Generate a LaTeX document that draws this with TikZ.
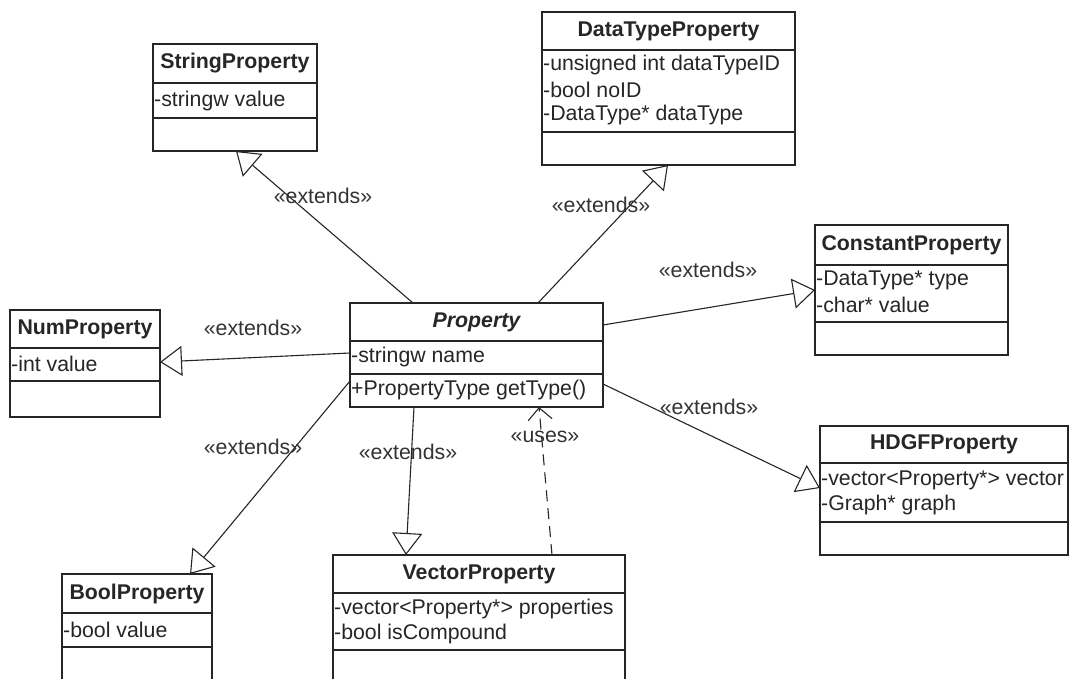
\documentclass[tikz,border=0pt]{standalone}
\usepackage{fontspec}
\setmainfont{Liberation Sans}
\usetikzlibrary{arrows.meta,calc}
\tikzset{
  clsbox/.style={draw=black!85, line width=1.5pt, fill=white, anchor=north west, inner sep=0pt, outer sep=0pt},
  clsline/.style={draw=black!85, line width=1.5pt},
  ctitle/.style={font=\fontsize{21.3}{25}\selectfont\bfseries, inner sep=0pt, text=black!85},
  attr/.style={font=\fontsize{21.3}{25}\selectfont, anchor=west, inner sep=0pt, xshift=1pt, text=black!85},
  lbl/.style={font=\fontsize{21.3}{25}\selectfont, inner sep=0pt, text=black!80},
  ext/.style={draw=black!85, line width=1.1pt, -{Triangle[open, length=22pt, width=30pt, fill=white]}},
  uses/.style={draw=black!85, line width=1.1pt, dash pattern=on 11pt off 7pt, -{Straight Barb[length=12pt, width=24pt]}}
}
\newcommand\umlclass[8]{%
  \node[clsbox, minimum width={(#4-#2)*1pt}, minimum height={(#5-#3)*1pt}] (#1) at (#2,#3) {};
  \draw[clsline] (#1.west |- 0,#6) -- (#1.east |- 0,#6);
  \draw[clsline] (#1.west |- 0,#7) -- (#1.east |- 0,#7);
  \node[ctitle] (#1-t) at ({(#2+#4)/2},{(#3+#6)/2}) {#8};
}
\begin{document}
\begin{tikzpicture}[x=1pt, y=-1pt]
\useasboundingbox (0,0) rectangle (1070,679);
\clip (0,0) rectangle (1070,679);
\fill[white] (0,0) rectangle (1070,679);

% classes
\umlclass{str}{153}{44}{317}{151}{83}{118}{StringProperty}
\node[attr] (str-a1) at (153,101) {-stringw value};

\umlclass{dt}{542}{12}{795}{165}{50}{132}{DataTypeProperty}
\node[attr] (dt-a1) at (542,65) {-unsigned int dataTypeID};
\node[attr] (dt-a2) at (542,90) {-bool noID};
\node[attr] (dt-a3) at (542,115) {-DataType* dataType};

\umlclass{const}{815}{225}{1008}{355}{265}{322}{ConstantProperty}
\node[attr] (const-a1) at (815,280) {-DataType* type};
\node[attr] (const-a2) at (815,305) {-char* value};

\umlclass{num}{10}{310}{160}{417}{348}{381}{NumProperty}
\node[attr] (num-a1) at (10,364) {-int value};

\umlclass{prop}{350}{303}{603}{407}{341}{374}{\itshape Property}
\node[attr] (prop-a1) at (350,357) {-stringw name};
\node[attr] (prop-a2) at (350,390) {+PropertyType getType()};

\umlclass{hdgf}{820}{426}{1068}{555}{463}{522}{HDGFProperty}
\node[attr] (hdgf-a1) at (820,480) {-vector<Property*> vector};
\node[attr] (hdgf-a2) at (820,505) {-Graph* graph};

\umlclass{bool}{62}{574}{212}{700}{613}{647}{BoolProperty}
\node[attr] (bool-a1) at (62,630) {-bool value};

\umlclass{vec}{333}{555}{625}{700}{593}{650}{VectorProperty}
\node[attr] (vec-a1) at (333,609) {-vector<Property*> properties};
\node[attr] (vec-a2) at (333,634) {-bool isCompound};

% connectors
\draw[ext] ($(prop.north west)+(63,0)$) -- ($(str.south west)+(83,0)$);
\draw[ext] ($(prop.north west)+(188,0)$) -- ($(dt.south west)+(126,0)$);
\draw[ext] ($(prop.north east)+(0,22)$) -- ($(const.north west)+(0,65)$);
\draw[ext] ($(prop.north west)+(0,50)$) -- ($(num.north east)+(0,52)$);
\draw[ext] ($(prop.north west)+(0,78)$) -- ($(bool.north west)+(128,0)$);
\draw[ext] ($(prop.south west)+(64,0)$) -- ($(vec.north west)+(73,0)$);
\draw[uses] ($(vec.north west)+(219,0)$) -- ($(prop.south west)+(189,0)$);
\draw[ext] ($(prop.north east)+(0,81)$) -- ($(hdgf.north west)+(0,62)$);

% labels
\node[lbl] (l1) at (323,196) {«extends»};
\node[lbl] (l2) at (601,205) {«extends»};
\node[lbl] (l3) at (708,270) {«extends»};
\node[lbl] (l4) at (253,328) {«extends»};
\node[lbl] (l5) at (253,447) {«extends»};
\node[lbl] (l6) at (408,452) {«extends»};
\node[lbl] (l7) at (545,437) {«uses»};
\node[lbl] (l8) at (709,407) {«extends»};
\end{tikzpicture}
\end{document}
